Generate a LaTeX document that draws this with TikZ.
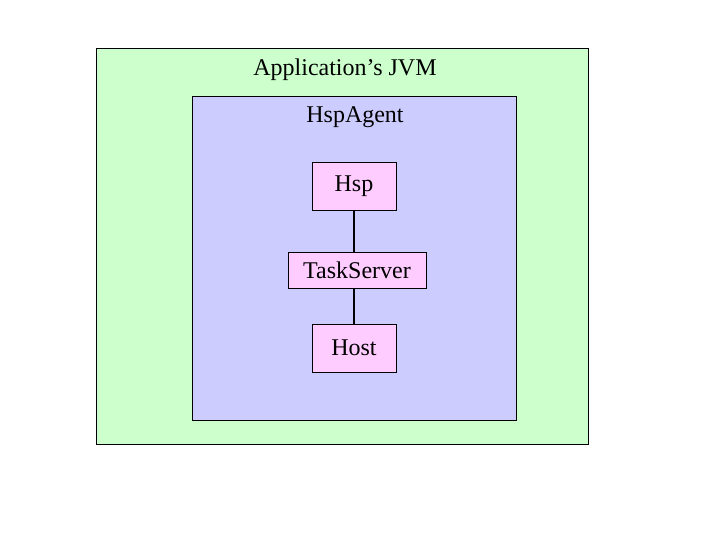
\documentclass[tikz,border=0pt]{standalone}
\usepackage{fontspec}
\setmainfont{Liberation Serif}
\usetikzlibrary{positioning}
\definecolor{jvmgreen}{HTML}{CCFFCC}
\definecolor{agentblue}{HTML}{CCCCFF}
\definecolor{partpink}{HTML}{FFCCFF}
\tikzset{
  part/.style={draw=black, fill=partpink, minimum height=48pt, inner sep=0pt},
  link/.style={draw=black, line width=1.5pt}
}
\begin{document}
\begin{tikzpicture}[x=1pt,y=-1pt,font=\fontsize{24}{29}\selectfont]
      \useasboundingbox (0,0) rectangle (720,540);
      \draw[fill=jvmgreen] (96,48) rectangle (588,444);
      \node[anchor=base] (jvm) at (345,76) {Application’s JVM};
      \draw[fill=agentblue] (192,96) rectangle (516,420);
      \node[anchor=base] (agent) at (355,123) {HspAgent};
      \node[part, minimum width=84pt] (hsp) at (354,186) {Hsp};
      \node[part, minimum width=138pt, minimum height=36pt] (task) at (357,270) {TaskServer};
      \node[part, minimum width=84pt] (host) at (354,348) {Host};
      \draw[link] (hsp.south) -- (hsp.south |- task.north);
      \draw[link] (hsp.south |- task.south) -- (host.north);
    \end{tikzpicture}
\end{document}
